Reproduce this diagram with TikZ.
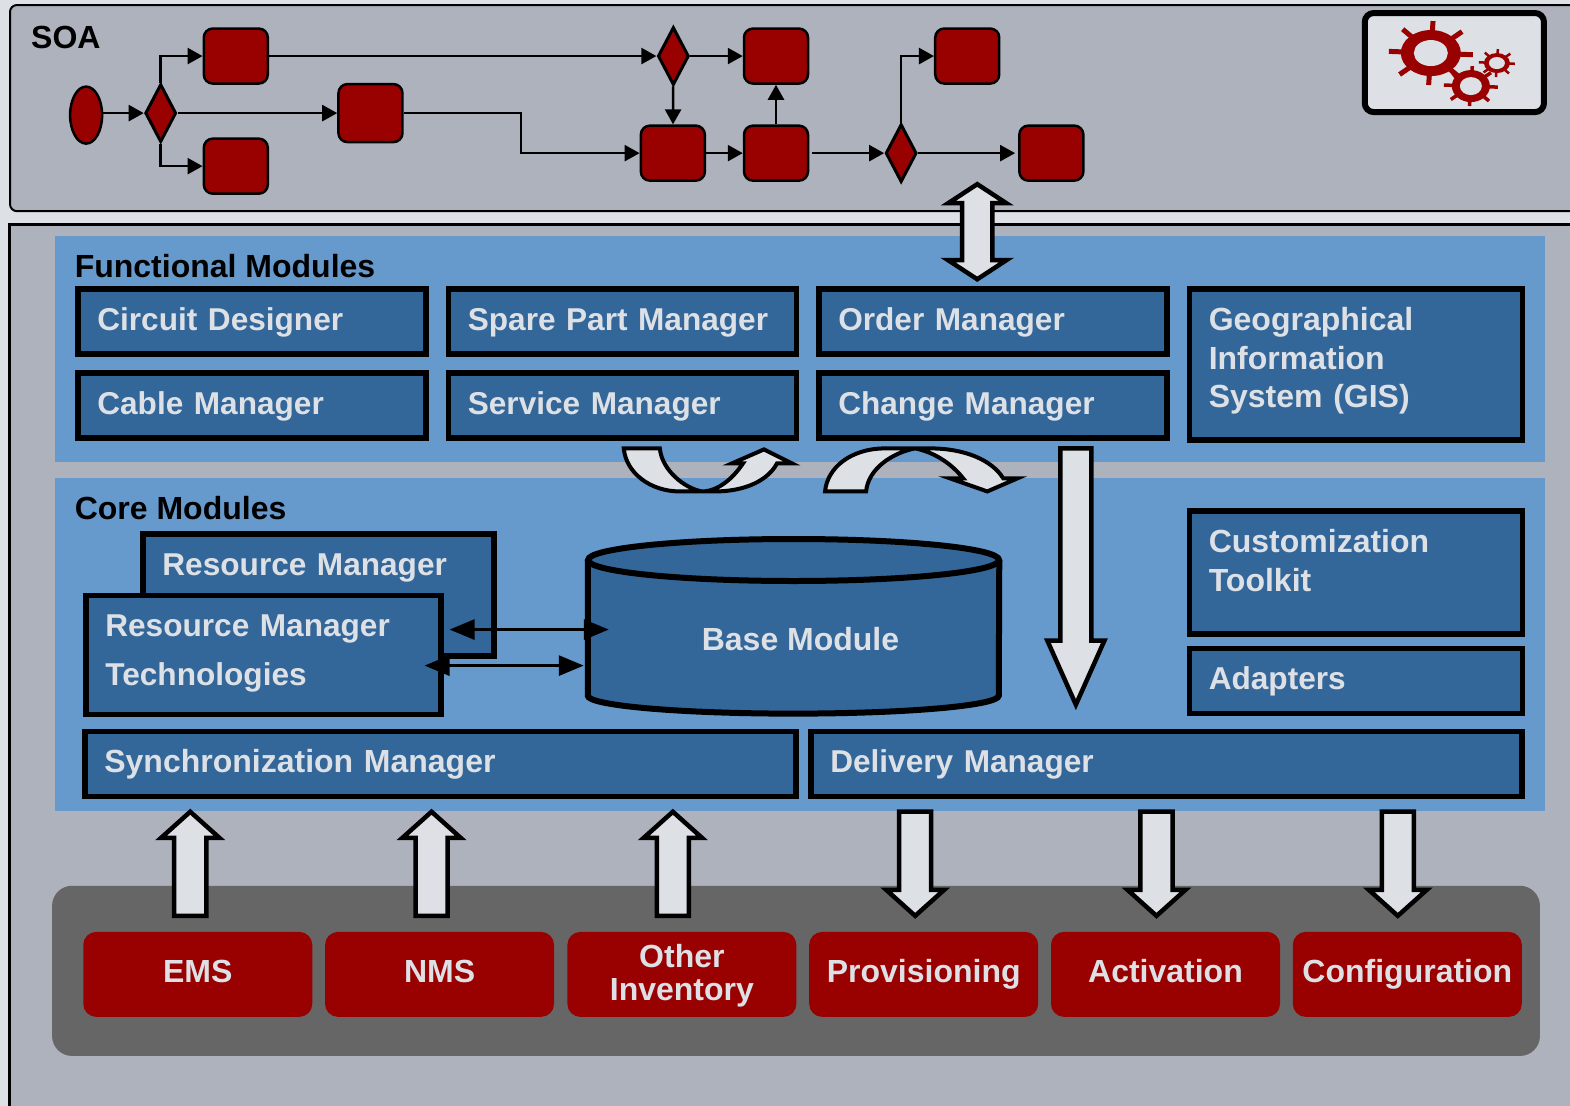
\documentclass[tikz,border=0pt]{standalone}
\usepackage{fontspec}
\setmainfont{Liberation Sans}
\usetikzlibrary{arrows.meta}
\usetikzlibrary{shapes.geometric}

\definecolor{paleback}{HTML}{DDE1E6}
\definecolor{panelgrey}{HTML}{AEB2BD}
\definecolor{lightblue}{HTML}{6699CC}
\definecolor{darkblue}{HTML}{336699}
\definecolor{darkred}{HTML}{990000}
\definecolor{bandgrey}{HTML}{666666}

\tikzset{
    boldtext/.style={font=\fontsize{32}{38.5}\selectfont\bfseries},
    title/.style={boldtext,text=black,anchor=west,inner sep=0pt},
    modbox/.style={font=\fontsize{31.6}{38.5}\selectfont\bfseries,draw=black,line width=5.5pt,fill=darkblue,text=paleback,
        anchor=north west,align=left,inner xsep=19.5pt,inner ysep=0pt,
        text height=23pt,text depth=6pt},
    sysbox/.style={fill=darkred,text=paleback,rounded corners=13pt,align=center,
        minimum width=229pt,minimum height=85pt,inner sep=0pt,font=\fontsize{32}{33}\selectfont\bfseries,
        text height=23pt,text depth=6pt},
    task/.style={draw=black,line width=2.5pt,fill=darkred,rounded corners=9pt,
        minimum width=64pt,minimum height=55pt,inner sep=0pt},
    gate/.style={diamond,draw=black,line width=3pt,fill=darkred,aspect=0.5,
        minimum width=31pt,minimum height=58pt,inner sep=0pt},
    flow/.style={draw=black,line width=2.5pt,-{Triangle[length=15pt,width=16pt]}},
    link/.style={draw=black,line width=3pt,{Triangle[length=25pt,width=20pt]}-{Triangle[length=25pt,width=20pt]}},
    blockarrow/.style={draw=black,line width=4.5pt,fill=paleback,miter limit=8},
}

\begin{document}
\begin{tikzpicture}[x=1.00128pt,y=-1.0009pt]
    \useasboundingbox (0,0) rectangle (1568,1105);
    \fill[paleback] (0,0) rectangle (1568,1105);

    % panels
    \draw[panelgrey,fill=panelgrey] (9,224) rectangle (1600,1130);
    \draw[black,line width=3pt] (1600,224) -- (9,224) -- (9,1130);
    \draw[black,line width=2pt,fill=panelgrey,rounded corners=7pt] (1600,5) -- (10,5) -- (10,211) -- (1600,211);
    \fill[lightblue] (55,236) rectangle (1543,462);
    \fill[lightblue] (55,478) rectangle (1543,810);
    \fill[bandgrey,rounded corners=20pt] (52,885) rectangle (1538,1055);

    \node[title] (soatitle) at (31,37) {SOA};
    \node[title] (functitle) at (74.5,266) {Functional Modules};
    \node[title] (coretitle) at (74.5,508) {Core Modules};

    % process
    \node[ellipse,draw=black,line width=2.5pt,fill=darkred,minimum width=32pt,minimum height=57pt,inner sep=0pt] (start) at (86,115) {};
    \node[gate] (gatea) at (160.5,113) {};
    \node[task] (taska) at (235.5,56) {};
    \node[task] (taskb) at (235.5,166) {};
    \node[task,minimum height=58pt] (taskc) at (370,113) {};
    \node[gate] (gateb) at (672.5,56) {};
    \node[task] (taskd) at (775,56) {};
    \node[task] (taske) at (672,153) {};
    \node[task] (taskf) at (775,153) {};
    \node[gate] (gatec) at (900,153) {};
    \node[task] (taskg) at (966,56) {};
    \node[task] (taskh) at (1050,153) {};
    \coordinate (bend) at (520.5,113);

    \draw[flow] (start.east |- gatea.west) -- (gatea.west);
    \draw[flow] (gatea.north) |- (taska.west);
    \draw[flow] (gatea.south) |- (taskb.west);
    \draw[flow] (gatea) -- (taskc);
    \draw[flow] (taskc.east) -- (bend) |- (taske.west);
    \draw[flow] (taska) -- (gateb);
    \draw[flow] (gateb) -- (taskd);
    \draw[flow] (gateb) -- (taske);
    \draw[flow] (taske) -- (taskf);
    \draw[flow] (taskf) -- (taskd);
    \draw[flow,shorten <=3pt] (taskf) -- (gatec);
    \draw[flow] (gatec.north) |- (taskg.west);
    \draw[flow,shorten >=3pt] (gatec) -- (taskh);

    % gears
    \draw[black,line width=6pt,fill=paleback,rounded corners=9pt] (1363,13) rectangle (1542,112);
    \foreach \gx/\gy/\rx/\ry/\hx/\hy/\tx/\ty/\tw in {1429/53/30/23/17/13/42/32/5,1469/86/19/16/11/9/27/20/3.5,1495/63/13/10/8/6/18/14/2.5}{
        \foreach \a in {3,48,...,318}{
            \draw[darkred,line width=\tw pt] ({\gx+0.5*\tx*cos(\a)},{\gy+0.5*\ty*sin(\a)}) -- ({\gx+\tx*cos(\a)},{\gy+\ty*sin(\a)});
        }
        \fill[darkred] (\gx,\gy) ellipse [x radius=\rx pt,y radius=\ry pt];
        \fill[paleback] (\gx,\gy) ellipse [x radius=\hx pt,y radius=\hy pt];
    }
    \draw[darkred,line width=3pt] (1449,71) -- (1455,79);

    % functional modules
    \node[modbox,text width=309pt,minimum height=65pt] (circuit) at (75,286) {Circuit Designer};
    \node[modbox,text width=309pt,minimum height=65pt] (spare) at (445,286) {Spare Part Manager};
    \node[modbox,text width=309pt,minimum height=65pt] (order) at (815,286) {Order Manager};
    \node[modbox,boldtext,text width=294pt,minimum height=151pt,text depth=91pt] (gis) at (1185,286) {Geographical\\Information\\System (GIS)};
    \node[modbox,text width=309pt,minimum height=65pt] (cable) at (75,370) {Cable Manager};
    \node[modbox,text width=309pt,minimum height=65pt] (service) at (445,370) {Service Manager};
    \node[modbox,text width=309pt,minimum height=65pt] (change) at (815,370) {Change Manager};

    % core modules
    \node[modbox,text width=312pt,minimum height=122pt,text depth=62pt] (resback) at (140,531) {Resource Manager};
    \node[modbox,text width=316pt,minimum height=119pt,text depth=59pt] (resfront) at (83,592) {Resource Manager\\[10.5pt]Technologies};
    \node[modbox,boldtext,text width=294pt,minimum height=123pt,text depth=63pt] (toolkit) at (1185,508) {Customization\\Toolkit};
    \node[modbox,text width=294pt,minimum height=65pt] (adapters) at (1185,645) {Adapters};
    \node[modbox,boldtext,text width=672pt,minimum height=65pt] (sync) at (82,728) {Synchronization Manager};
    \node[modbox,text width=672pt,minimum height=65pt] (delivery) at (807,728) {Delivery Manager};

    \draw[black,line width=6pt,fill=darkblue] (587,559.5) -- (587,695) arc [start angle=180,end angle=360,x radius=205.5pt,y radius=18pt] -- (998,559.5);
    \draw[black,line width=6pt,fill=darkblue] (792.5,559.5) ellipse [x radius=205.5pt,y radius=21pt];
    \node[boldtext,text=paleback] (base) at (799.5,638) {Base Module};

    \coordinate (linkaleft) at (449,629);
    \coordinate (linkaright) at (608,629);
    \coordinate (linkbleft) at (424,665);
    \coordinate (linkbright) at (583,665);
    \draw[link] (linkaleft) -- (linkaright);
    \draw[link] (linkbleft) -- (linkbright);

    % external systems
    \node[sysbox] (ems) at (197.5,973.5) {EMS};
    \node[sysbox] (nms) at (439,973.5) {NMS};
    \node[sysbox,text height=58pt] (inventory) at (681,973.5) {Other\\Inventory};
    \node[sysbox] (provisioning) at (922.5,973.5) {Provisioning};
    \node[sysbox] (activation) at (1164,973.5) {Activation};
    \node[sysbox] (configuration) at (1405.5,973.5) {Configuration};

    % block arrows
    \draw[blockarrow] (976,184) -- ++(29,19) -- ++(-14,0) -- ++(0,57) -- ++(14,0) -- ++(-29,19) -- ++(-29,-19) -- ++(14,0) -- ++(0,-57) -- ++(-14,0) -- cycle;
    \draw[blockarrow] (1059,448) -- ++(31,0) -- ++(0,192) -- ++(13,0) -- ++(-28.5,64) -- ++(-28.5,-64) -- ++(13,0) -- cycle;

    \draw[blockarrow] (190,811) -- ++(29,26) -- ++(-13,0) -- ++(0,78) -- ++(-32,0) -- ++(0,-78) -- ++(-13,0) -- cycle;
    \draw[blockarrow] (431,811) -- ++(29,26) -- ++(-13,0) -- ++(0,78) -- ++(-32,0) -- ++(0,-78) -- ++(-13,0) -- cycle;
    \draw[blockarrow] (672,811) -- ++(29,26) -- ++(-13,0) -- ++(0,78) -- ++(-32,0) -- ++(0,-78) -- ++(-13,0) -- cycle;
    \draw[blockarrow] (914,915) -- ++(29,-26) -- ++(-13,0) -- ++(0,-78) -- ++(-32,0) -- ++(0,78) -- ++(-13,0) -- cycle;
    \draw[blockarrow] (1155,915) -- ++(29,-26) -- ++(-13,0) -- ++(0,-78) -- ++(-32,0) -- ++(0,78) -- ++(-13,0) -- cycle;
    \draw[blockarrow] (1396,915) -- ++(29,-26) -- ++(-13,0) -- ++(0,-78) -- ++(-32,0) -- ++(0,78) -- ++(-13,0) -- cycle;

    \draw[blockarrow,line width=4pt,xshift=-1pt] (624,448) .. controls (626,472) and (650,491) .. (680,491) -- (715,491) .. controls (745,491) and (768,480) .. (777,463) -- (792,463) -- (764,449) -- (732,463) -- (743,463) .. controls (733,478) and (718,491) .. (702,491) .. controls (685,488) and (662,470) .. (660,448) -- cycle;
    \draw[blockarrow,line width=4pt,xshift=-1pt] (825,491) .. controls (827,468) and (850,448) .. (885,448) -- (930,448) .. controls (965,448) and (992,460) .. (1003,478) -- (1017,478) -- (987,491) -- (950,478) -- (963,478) .. controls (952,464) and (935,452) .. (915,448) .. controls (893,452) and (868,468) .. (866,491) -- cycle;
\end{tikzpicture}
\end{document}
